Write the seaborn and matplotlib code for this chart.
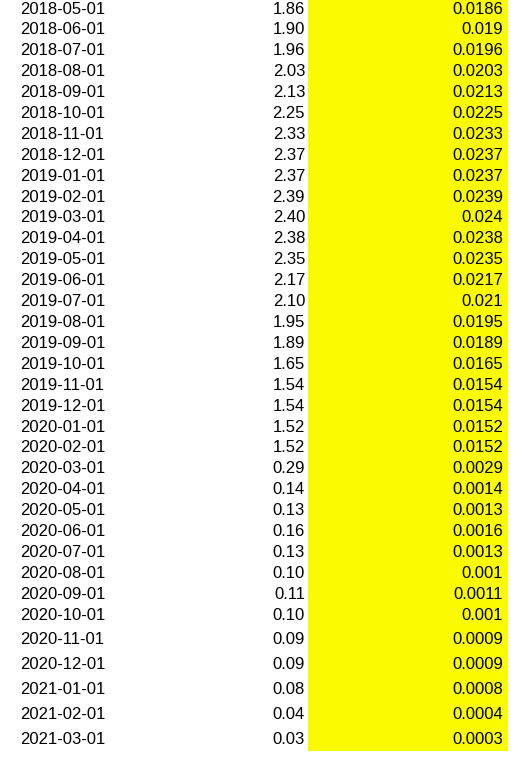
import matplotlib
matplotlib.use("Agg")
import matplotlib.pyplot as plt
import seaborn as sns
from matplotlib.patches import Rectangle

dates = ["2018-05-01","2018-06-01","2018-07-01","2018-08-01","2018-09-01","2018-10-01","2018-11-01","2018-12-01",
         "2019-01-01","2019-02-01","2019-03-01","2019-04-01","2019-05-01","2019-06-01","2019-07-01","2019-08-01",
         "2019-09-01","2019-10-01","2019-11-01","2019-12-01","2020-01-01","2020-02-01","2020-03-01","2020-04-01",
         "2020-05-01","2020-06-01","2020-07-01","2020-08-01","2020-09-01","2020-10-01","2020-11-01","2020-12-01",
         "2021-01-01","2021-02-01","2021-03-01"]
rates = ["1.86","1.90","1.96","2.03","2.13","2.25","2.33","2.37","2.37","2.39","2.40","2.38","2.35","2.17","2.10",
         "1.95","1.89","1.65","1.54","1.54","1.52","1.52","0.29","0.14","0.13","0.16","0.13","0.10","0.11","0.10",
         "0.09","0.09","0.08","0.04","0.03"]
fractions = ["0.0186","0.019","0.0196","0.0203","0.0213","0.0225","0.0233","0.0237","0.0237","0.0239","0.024",
             "0.0238","0.0235","0.0217","0.021","0.0195","0.0189","0.0165","0.0154","0.0154","0.0152","0.0152",
             "0.0029","0.0014","0.0013","0.0016","0.0013","0.001","0.0011","0.001","0.0009","0.0009","0.0008",
             "0.0004","0.0003"]

sns.set_theme(style="white")
plt.rcParams['font.family'] = ['Liberation Sans', 'DejaVu Sans']

fig = plt.figure(figsize=(5.27, 7.73), dpi=100)
ax = fig.add_axes([0, 0, 1, 1])
ax.set_xlim(0, 527)
ax.set_ylim(773, 0)
ax.axis("off")

ax.add_patch(Rectangle((308, 0), 200, 751, color="#FAFA00", lw=0))

ys = []
for i in range(len(dates)):
    if i < 30:
        ys.append(9 + i * 20.9)
    else:
        ys.append(615 + (i - 29) * 24.9)

for y, d, r, f in zip(ys, dates, rates, fractions):
    ax.text(20, y, d, ha="left", va="center", fontsize=12, color="black")
    ax.text(305, y, r, ha="right", va="center", fontsize=12, color="black")
    ax.text(503, y, f, ha="right", va="center", fontsize=12, color="black")

fig.savefig("out.png", dpi=100)
